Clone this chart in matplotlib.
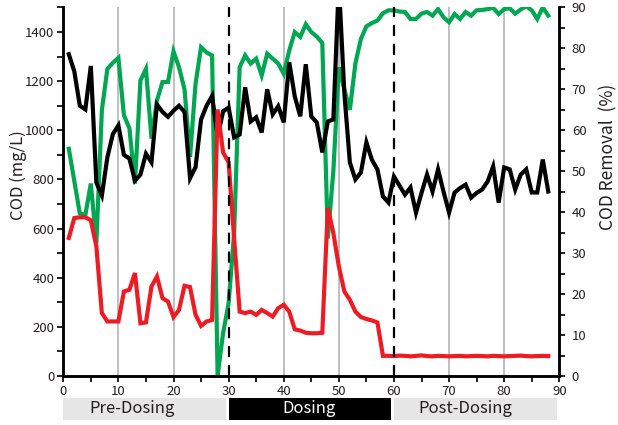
import matplotlib
matplotlib.use("Agg")
import matplotlib.pyplot as plt
from matplotlib.ticker import MultipleLocator

plt.rcParams['font.family'] = ['Noto Sans CJK JP', 'DejaVu Sans']

# colors
GREEN = "#00a651"
RED = "#ed1c24"
GRID = "#b4b4b8"
BARGRAY = "#e6e6e6"
TEXT = "#231f20"

days = list(range(1, 89))

cod_in = [1310, 1240, 1100, 1085, 1262, 787, 735, 890, 985, 1020,
          900, 885, 795, 820, 905, 870, 1105, 1075, 1055, 1080,
          1100, 1075, 805, 850, 1044, 1100, 1140, 975, 1077, 1093,
          971, 983, 1175, 1036, 1053, 991, 1167, 1065, 1098, 1032,
          1277, 1138, 1057, 1269, 1057, 1032, 910, 1036, 1044, 1600,
          1150, 869, 800, 828, 951, 880, 841, 731, 706, 812,
          775, 738, 767, 665, 745, 820, 751, 841, 750, 665,
          747, 765, 779, 726, 745, 759, 792, 853, 706, 849,
          841, 759, 820, 841, 747, 747, 881, 751]

cod_out = [562, 643, 646, 646, 634, 528, 256, 222, 222, 222,
           344, 351, 419, 215, 218, 364, 405, 317, 303, 240,
           269, 367, 362, 249, 204, 222, 228, 1085, 910, 870,
           560, 262, 256, 262, 249, 269, 256, 242, 276, 290,
           262, 190, 185, 176, 174, 174, 176, 684, 582, 446,
           344, 310, 262, 240, 232, 226, 218, 82, 82, 81,
           83, 82, 80, 82, 84, 81, 80, 82, 81, 80,
           81, 82, 80, 81, 82, 81, 80, 82, 81, 80,
           81, 82, 83, 81, 80, 81, 82, 81]

removal = [55.5, 47.6, 39.7, 39.3, 47.0, 32.4, 64.9, 75.0, 76.5, 77.7,
           63.7, 60.5, 47.0, 72.2, 75.0, 58.0, 67.3, 71.8, 71.8, 79.3,
           75.4, 70.0, 53.5, 71.4, 80.3, 79.0, 78.3, 0.0, 10.5, 17.8,
           34.9, 75.4, 78.3, 76.3, 77.5, 73.4, 78.7, 77.5, 76.3, 73.8,
           79.5, 84.0, 82.8, 85.9, 84.0, 82.9, 81.3, 33.6, 50.0, 75.4,
           70.0, 65.0, 76.3, 82.3, 85.4, 86.2, 86.8, 88.6, 89.3, 89.3,
           89.0, 88.9, 87.2, 87.2, 88.5, 88.9, 88.0, 89.6, 87.6, 86.4,
           88.4, 87.2, 88.9, 88.0, 89.3, 89.4, 89.6, 89.9, 88.4, 89.6,
           89.8, 88.5, 89.5, 90.3, 89.3, 87.2, 90.0, 88.0]

grid_days = [10, 20, 40, 50, 70, 80]
phase_days = [30, 60]

phase_names = ["Pre-Dosing", "Dosing", "Post-Dosing"]
phase_start = [0, 30, 60]
phase_colors = [BARGRAY, "black", BARGRAY]
phase_text_colors = [TEXT, "white", TEXT]
phase_text_x = [12.5, 44.6, 73]

fig = plt.figure(figsize=(6.18, 4.25), dpi=100)
ax = fig.add_axes([0.1024, 0.1153, 0.8026, 0.8671])
ax2 = ax.twinx()

# green removal on the right axis, kept under the COD lines
ax.set_zorder(ax2.get_zorder() + 1)
ax.patch.set_visible(False)

for d in grid_days:
    ax2.axvline(d, color=GRID, lw=1.2, zorder=0)

ax2.plot(days, removal, color=GREEN, lw=3, solid_joinstyle="miter", zorder=2)
ax.plot(days, cod_in, color="black", lw=3, solid_joinstyle="miter", zorder=3)
ax.plot(days, cod_out, color=RED, lw=3, solid_joinstyle="miter", zorder=3)

for d in phase_days:
    ax.axvline(d, color="black", lw=1.6, dashes=(5, 3.5), zorder=5)

ax.set_xlim(0, 90)
ax.set_ylim(0, 1500)
ax2.set_ylim(0, 90)

ax.xaxis.set_major_locator(MultipleLocator(10))
ax.xaxis.set_minor_locator(MultipleLocator(5))
ax.yaxis.set_major_locator(MultipleLocator(200))
ax.yaxis.set_minor_locator(MultipleLocator(100))
ax2.yaxis.set_major_locator(MultipleLocator(10))
ax2.yaxis.set_minor_locator(MultipleLocator(5))

for a in (ax, ax2):
    a.tick_params(which="both", direction="out", length=4, width=1.4,
                  labelsize=9.5, colors=TEXT, pad=2.5)
    a.spines["top"].set_visible(False)
    for s in ("left", "right", "bottom"):
        a.spines[s].set_linewidth(1.8)
        a.spines[s].set_color("black")
ax2.tick_params(axis="y", pad=5)

fig.text(0.029, 0.588, "COD (mg/L)", rotation=90, ha="center", va="center",
         fontsize=12, color=TEXT)
fig.text(0.985, 0.63, "COD Removal  (%)", rotation=90, ha="center", va="center",
         fontsize=12.5, color=TEXT)

# phase bars under the x axis
pax = fig.add_axes([0.1024, 0.0118, 0.8026, 0.0518])
pax.set_xlim(0, 90)
pax.set_ylim(0, 1)
pax.axis("off")
for name, start, col, tcol, tx in zip(phase_names, phase_start, phase_colors,
                                       phase_text_colors, phase_text_x):
    pax.barh(0.5, 29.5, left=start, height=1, color=col)
    pax.text(tx, 0.5, name, ha="center", va="center", fontsize=12, color=tcol)

fig.savefig("out.png", dpi=100)
